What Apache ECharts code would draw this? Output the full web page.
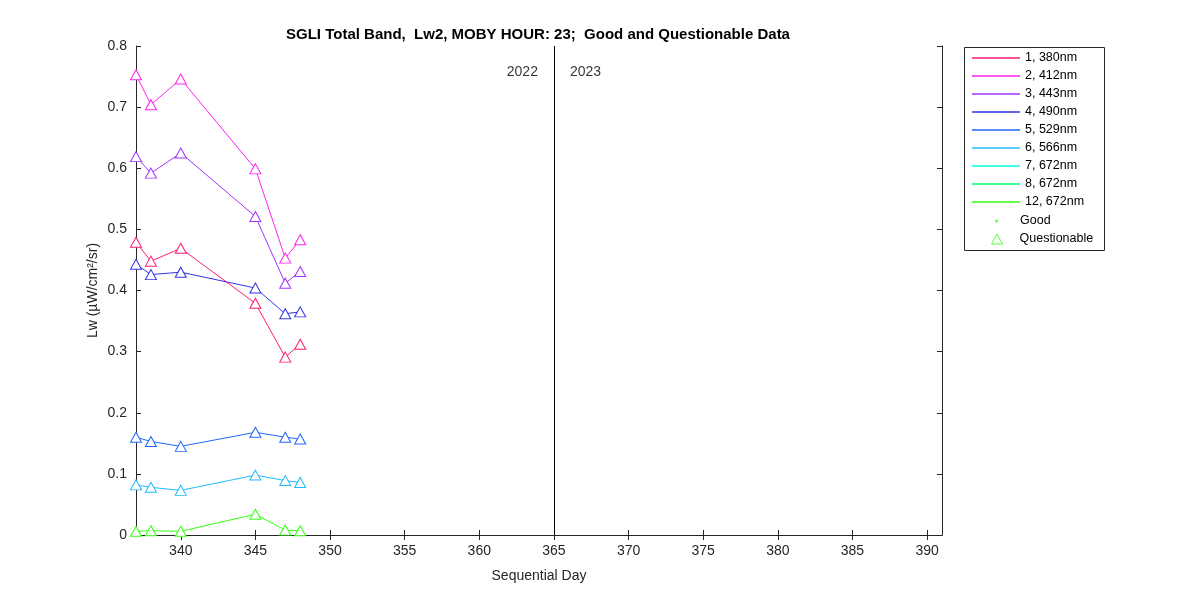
<!DOCTYPE html>
<html>
<head>
<meta charset="utf-8">
<script src="https://cdn.jsdelivr.net/npm/echarts@6/dist/echarts.min.js"></script>
<style>
    html, body { margin: 0; padding: 0; background: #fff; }
    #lw-chart { width: 1200px; height: 600px; }
</style>
</head>
<body>
<div id="lw-chart"></div>
<script>
// 横轴: 日序
var days = [337, 338, 340, 345, 347, 348];
var xTicks = [340, 345, 350, 355, 360, 365, 370, 375, 380, 385, 390];
var yTicks = [0, 0.1, 0.2, 0.3, 0.4, 0.5, 0.6, 0.7, 0.8];

// 各波段名称与颜色
var bandNames = ['1, 380nm', '2, 412nm', '3, 443nm', '4, 490nm', '5, 529nm', '6, 566nm', '7, 672nm', '8, 672nm', '12, 672nm'];
var bandColors = ['#ff1a75', '#ff22ee', '#a033ff', '#3333e6', '#2266ff', '#22bbff', '#00ffdd', '#00ff66', '#33ff11'];

// 各波段 Lw 值 (Questionable)
var band1 = [0.479, 0.448, 0.469, 0.379, 0.291, 0.312];
var band2 = [0.753, 0.704, 0.746, 0.599, 0.453, 0.483];
var band3 = [0.619, 0.592, 0.625, 0.521, 0.412, 0.431];
var band4 = [0.443, 0.426, 0.430, 0.404, 0.362, 0.365];
var band5 = [0.160, 0.153, 0.145, 0.168, 0.160, 0.157];
var band6 = [0.082, 0.078, 0.073, 0.098, 0.089, 0.086];
var band7 = [];
var band8 = [];
var band12 = [0.006, 0.007, 0.006, 0.034, 0.008, 0.007];
var bandValues = [band1, band2, band3, band4, band5, band6, band7, band8, band12];

// 年份分界
var yearSplit = 365;
var yearLabelY = 0.758;
var yearLabels = ['2022', '2023'];

var myChart = echarts.init(document.getElementById('lw-chart'));
var axisColor = '#262626';
var fontName = 'Liberation Sans, Arial, sans-serif';

/**
 * [把日序和数值拼成坐标点]
 */
function toPoints(values) {
    let pts = [];
    for (let i = 0; i < values.length; i++) {
        pts.push([days[i], values[i]]);
    }
    return pts;
}

// 组装 series
var series = [];
for (let i = 0; i < bandNames.length; i++) {
    series.push({
        name: bandNames[i],
        type: 'line',
        data: toPoints(bandValues[i]),
        symbol: 'triangle',
        symbolSize: [11, 10],
        showAllSymbol: true,
        lineStyle: { color: bandColors[i], width: 1 },
        itemStyle: { color: '#fff', borderColor: bandColors[i], borderWidth: 1 },
        emphasis: { disabled: true },
        z: 3
    });
}
// 图例用的空 series
series.push({
    name: 'Good', type: 'scatter', data: [], symbol: 'circle',
    itemStyle: { color: '#33ff11' }
});
series.push({
    name: 'Questionable', type: 'scatter', data: [], symbol: 'triangle',
    itemStyle: { color: 'transparent', borderColor: '#33ff11', borderWidth: 1 }
});
// 年份分界线
series.push({
    name: 'split', type: 'line', data: [], silent: true,
    markLine: {
        symbol: 'none', silent: true,
        lineStyle: { color: '#000', width: 1, type: 'solid' },
        label: { show: false },
        data: [{ xAxis: yearSplit }]
    }
});
// 年份文字
series.push({
    name: 'years', type: 'scatter', silent: true, symbolSize: 0,
    data: [
        { value: [yearSplit, yearLabelY], label: { show: true, formatter: yearLabels[0], position: 'left', distance: 16 } },
        { value: [yearSplit, yearLabelY], label: { show: true, formatter: yearLabels[1], position: 'right', distance: 16 } }
    ],
    label: { color: '#000', fontSize: 14, fontFamily: fontName }
});

var legendBands = [];
for (let i = 0; i < bandNames.length; i++) {
    legendBands.push({ name: bandNames[i], icon: 'rect', itemStyle: { color: bandColors[i], borderWidth: 0 } });
}

var xAxisBase = {
    type: 'value', min: 337, max: 391,
    axisLine: { show: true, lineStyle: { color: axisColor, width: 1 } },
    axisTick: { show: true, inside: true, length: 5, customValues: xTicks, lineStyle: { color: axisColor } },
    splitLine: { show: false }
};
var yAxisBase = {
    type: 'value', min: 0, max: 0.8, interval: 0.1,
    axisLine: { show: true, lineStyle: { color: axisColor, width: 1 } },
    axisTick: { show: true, inside: true, length: 5, lineStyle: { color: axisColor } },
    splitLine: { show: false }
};

var option = {
    backgroundColor: '#fff',
    animation: false,
    title: {
        text: 'SGLI Total Band,  Lw2, MOBY HOUR: 23;  Good and Questionable Data',
        left: 533, top: 22, textAlign: 'center',
        textStyle: { fontSize: 15, fontWeight: 'bold', color: '#000', fontFamily: fontName }
    },
    grid: { left: 136, right: 258, top: 46, bottom: 65, containLabel: false },
    xAxis: [
        Object.assign({}, xAxisBase, {
            position: 'bottom',
            name: 'Sequential Day', nameLocation: 'middle', nameGap: 34, nameMoveOverlap: false,
            nameTextStyle: { fontSize: 14, color: axisColor, fontFamily: fontName },
            axisLabel: { show: true, customValues: xTicks, margin: 9, fontSize: 14, color: axisColor, fontFamily: fontName }
        }),
        Object.assign({}, xAxisBase, { position: 'top', axisLabel: { show: false } })
    ],
    yAxis: [
        Object.assign({}, yAxisBase, {
            position: 'left',
            name: 'Lw (µW/cm²/sr)', nameLocation: 'middle', nameGap: 36, nameMoveOverlap: false,
            nameTextStyle: { fontSize: 14, color: axisColor, fontFamily: fontName },
            axisLabel: { show: true, margin: 9, fontSize: 14, color: axisColor, fontFamily: fontName }
        }),
        Object.assign({}, yAxisBase, { position: 'right', axisLabel: { show: false } })
    ],
    legend: [
        {
            data: legendBands, orient: 'vertical', left: 967, top: 46,
            itemWidth: 48, itemHeight: 1.3, itemGap: 4,
            selectedMode: false,
            textStyle: { fontSize: 12.5, color: '#000', fontFamily: fontName, lineHeight: 14 }
        },
        {
            data: [{ name: 'Good', icon: 'circle', itemStyle: { color: '#33ff11' } }],
            orient: 'vertical', left: 990, top: 209,
            itemWidth: 3, itemHeight: 3, itemGap: 4,
            selectedMode: false,
            textStyle: { fontSize: 12.5, color: '#000', fontFamily: fontName, lineHeight: 14, padding: [0, 0, 0, 17] }
        },
        {
            data: [{ name: 'Questionable', icon: 'triangle', itemStyle: { color: 'transparent', borderColor: '#33ff11', borderWidth: 1 } }],
            orient: 'vertical', left: 986, top: 227,
            itemWidth: 11, itemHeight: 10, itemGap: 4,
            selectedMode: false,
            textStyle: { fontSize: 12.5, color: '#000', fontFamily: fontName, lineHeight: 14, padding: [0, 0, 0, 12] }
        }
    ],
    // 图例外框
    graphic: [
        { type: 'rect', left: 962, top: 45, shape: { width: 140, height: 203 }, style: { fill: 'none', stroke: '#262626', lineWidth: 1 }, silent: true }
    ],
    series: series
};

myChart.setOption(option);
</script>
</body>
</html>
